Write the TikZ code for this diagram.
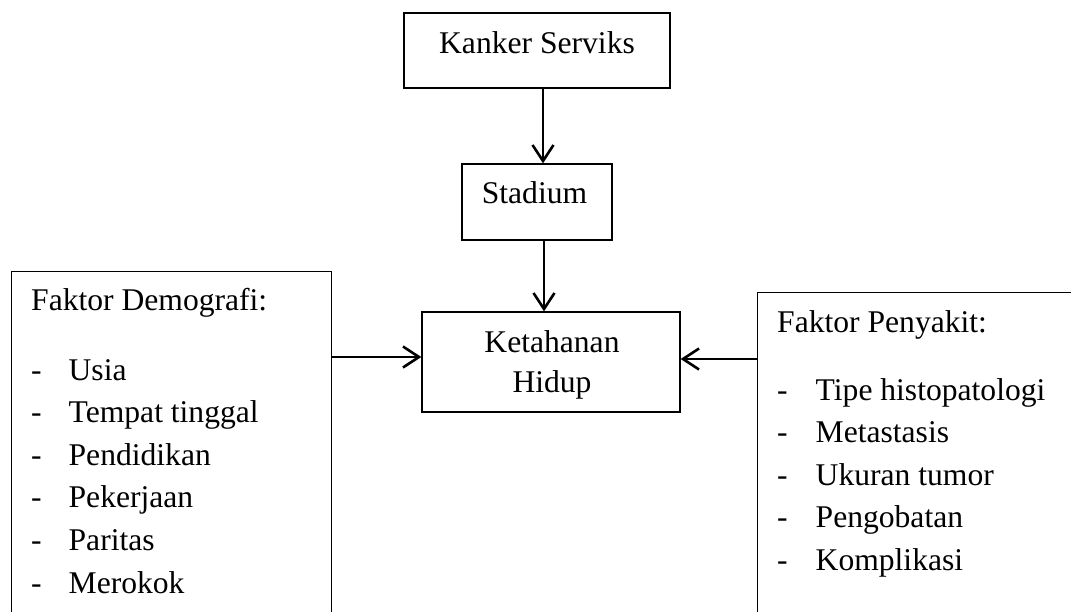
\documentclass[tikz,border=0pt]{standalone}
\usepackage{fontspec}
\setmainfont{Liberation Serif}
\usetikzlibrary{arrows.meta}

\tikzset{
  boxframe/.style={draw=black, line width=1.3pt, inner sep=0pt},
  txt/.style={inner sep=0pt, font=\fontsize{31.6pt}{42.6pt}\selectfont},
  flow/.style={draw=black, line width=2.6pt,
    -{Straight Barb[length=16pt,width=21pt,line width=2.6pt]}},
}

\begin{document}
\begin{tikzpicture}[x=1pt,y=-1pt]
  \clip (0,0) rectangle (1071,611);
  \fill[white] (0,0) rectangle (1071,611);

  % top chain
  \node[boxframe, minimum width=266pt, minimum height=75pt] (kanker) at (537,50.5) {};
  \node[txt, anchor=base] (kankertxt) at (537,53) {Kanker Serviks};

  \node[boxframe, minimum width=150pt, minimum height=76pt] (stadium) at (537,202) {};
  \node[txt, anchor=base] (stadiumtxt) at (534.5,203) {Stadium};

  \node[boxframe, minimum width=258pt, minimum height=100pt] (hidup) at (551,362) {};
  \node[txt, anchor=base] (hidupa) at (552,352) {Ketahanan};
  \node[txt, anchor=base] (hidupb) at (552,392) {Hidup};

  % demographic factors (box runs past the lower edge)
  \node[boxframe, anchor=north west, minimum width=320pt, minimum height=420pt] (demo) at (11,271) {};
  \node[txt, anchor=base west] (demohead) at (31,310) {Faktor Demografi:};
  \node[txt, anchor=base west] (demolist) at (31,380) {%
    \begin{tabular}[t]{@{}p{37.5pt}@{}l@{}}
      - & Usia\\
      - & Tempat tinggal\\
      - & Pendidikan\\
      - & Pekerjaan\\
      - & Paritas\\
      - & Merokok
    \end{tabular}};

  % disease factors (box runs past the right and lower edges)
  \node[boxframe, anchor=north west, minimum width=400pt, minimum height=400pt] (sakit) at (757,292) {};
  \node[txt, anchor=base west] (sakithead) at (777,332) {Faktor Penyakit:};
  \node[txt, anchor=base west] (sakitlist) at (777,400) {%
    \begin{tabular}[t]{@{}p{38.5pt}@{}l@{}}
      - & Tipe histopatologi\\
      - & Metastasis\\
      - & Ukuran tumor\\
      - & Pengobatan\\
      - & Komplikasi
    \end{tabular}};

  % connectors
  \draw[flow] ([xshift=6pt]kanker.south) -- ([xshift=6pt]stadium.north);
  \draw[flow] ([xshift=7pt]stadium.south) -- ([xshift=-7pt]hidup.north);
  \draw[flow] ([yshift=5pt]hidup.west -| demo.east) -- ([yshift=5pt]hidup.west);
  \draw[flow] ([yshift=3pt]hidup.east -| sakit.west) -- ([yshift=3pt]hidup.east);
\end{tikzpicture}
\end{document}
